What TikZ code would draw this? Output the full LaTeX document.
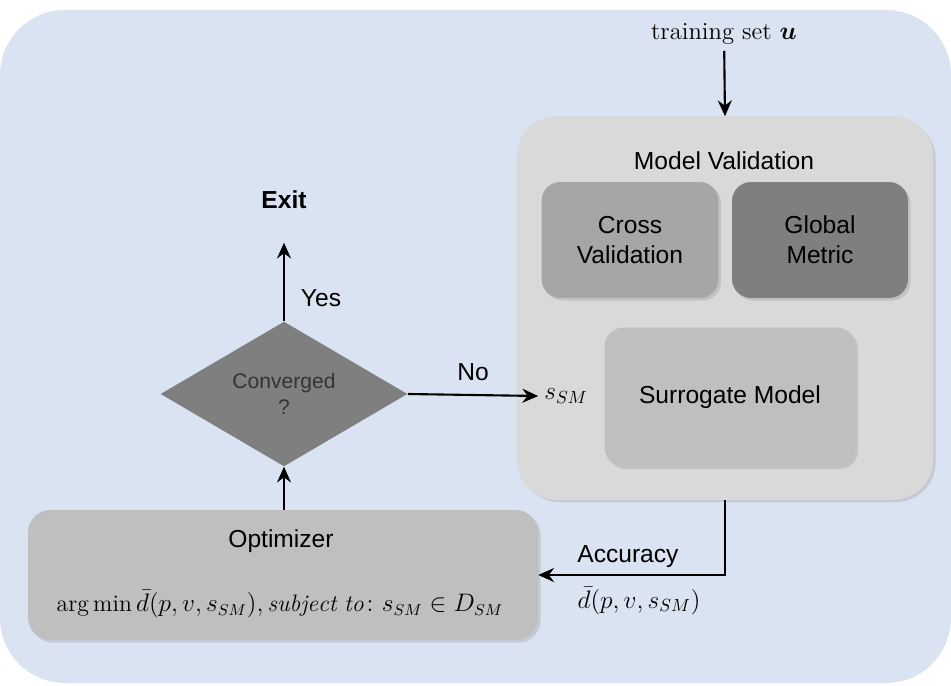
\documentclass[tikz,border=0pt]{standalone}
\usepackage{amsmath}
\usepackage{fontspec}
\setsansfont{Liberation Sans}
\usetikzlibrary{shapes.geometric,arrows.meta,shadows}

\definecolor{bgblue}{HTML}{DAE3F2}
\definecolor{lightbox}{HTML}{D9D9D9}
\definecolor{midbox}{HTML}{BFBFBF}
\definecolor{crossbox}{HTML}{A6A6A6}
\definecolor{darkbox}{HTML}{7F7F7F}

\begin{document}
\begin{tikzpicture}[x=0.02cm, y=-0.02cm, align=center,
  font=\sffamily\fontsize{14}{17}\selectfont,
  box/.style={rounded corners=0.38cm, inner sep=0pt,
    drop shadow={shadow xshift=1.5pt, shadow yshift=-1.5pt, opacity=0.25}},
  >={Stealth[length=9pt, width=8pt, inset=3pt]},
  conn/.style={->, line width=1.2pt, black}]

\useasboundingbox (0,0) rectangle (951,686);
\fill[bgblue, rounded corners=1.3cm] (0,10) rectangle (951,683);

\node[box, fill=lightbox, draw=black!15, rounded corners=0.8cm,
  minimum width=8.32cm, minimum height=7.66cm] (mv) at (725,308) {};
\node (mvtitle) at (724,161) {Model Validation};
\node[box, fill=crossbox, minimum width=3.54cm, minimum height=2.32cm] (cross) at (630,240) {Cross\\Validation};
\node[box, fill=darkbox, minimum width=3.52cm, minimum height=2.32cm] (glob) at (820,240) {Global\\Metric};
\node[box, fill=midbox, minimum width=5.02cm, minimum height=2.78cm] (surr) at (730,397) {Surrogate Model};
\node (ssm) at (566,396) {$s_{SM}$};

\node[font=\rmfamily\fontsize{14}{17}\selectfont] (train) at (724,34) {training set $\boldsymbol{u}$};

\node[shape=diamond, fill=darkbox, inner sep=0pt, minimum width=4.94cm, minimum height=2.56cm,
  font=\sffamily\fontsize{12}{15}\selectfont, text=black!80] (conv) at (284,394) {Converged\\?};
\node[font=\sffamily\bfseries\fontsize{14}{17}\selectfont] (exit) at (284,200) {Exit};

\node[box, fill=midbox, rounded corners=0.45cm, minimum width=10.2cm, minimum height=2.6cm] (opt) at (283,575) {};
\node (opttitle) at (281,541) {Optimizer};
\node[font=\rmfamily\fontsize{13.5}{16}\selectfont] (optform) at (280,604)
  {$\arg\min\bar{d}(p,v,s_{SM}),\mathit{subject\ to}\colon s_{SM}\in D_{SM}$};

\draw[conn] (train) -- (mv.north);
\draw[conn, shorten >=0.55cm] (conv.north) -- node[right=0.2cm, pos=0.22] {Yes} (exit.south);
\draw[conn] (opt.north -| conv.south) -- (conv.south);
\draw[conn] (conv.east) -- node[above=0.15cm] {No} (ssm.west);
\draw[conn] (mv.south) |- node[above, pos=0.76] {Accuracy}
  node[below=3pt, pos=0.73, font=\rmfamily\fontsize{14}{17}\selectfont] {$\bar{d}(p,v,s_{SM})$} (opt.east);

\end{tikzpicture}
\end{document}
